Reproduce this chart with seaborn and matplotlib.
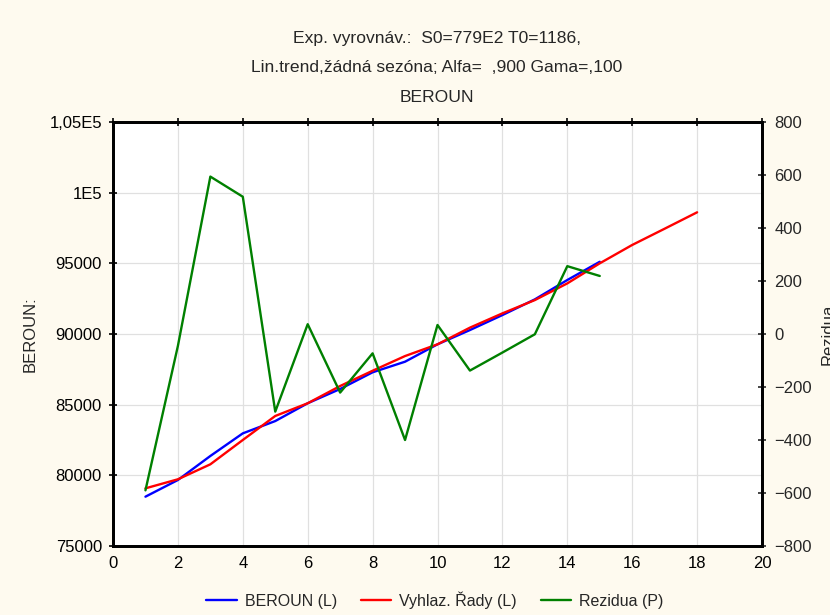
import numpy as np
import pandas as pd
import matplotlib
matplotlib.use('Agg')
import matplotlib.pyplot as plt
import seaborn as sns

# hodnoty
obdobi = list(range(1, 16))
beroun = [78490, 79670, 81370, 82970, 83840, 85100, 86110, 87290, 88040,
          89270, 90280, 91340, 92450, 93820, 95110]
obdobi_vyhl = list(range(1, 19))
vyhlazene = [79080, 79720, 80780, 82500, 84200, 85100, 86320, 87400, 88440,
             89270, 90450, 91460, 92400, 93580, 95000, 96300, 97450, 98610]
rezidua = [-590, -45, 594, 518, -293, 37, -221, -73, -400,
           34, -138, -70, -1, 256, 219]

titulky = ["Exp. vyrovnáv.:  S0=779E2 T0=1186,",
           "Lin.trend,žádná sezóna; Alfa=  ,900 Gama=,100",
           "BEROUN"]
levy_ticks = [75000, 80000, 85000, 90000, 95000, 100000, 105000]
levy_labels = ["75000", "80000", "85000", "90000", "95000", "1E5", "1,05E5"]
pravy_ticks = list(range(-800, 801, 200))
x_ticks = list(range(0, 21, 2))

df1 = pd.DataFrame({'x': obdobi, 'y': beroun})
df2 = pd.DataFrame({'x': obdobi_vyhl, 'y': vyhlazene})
df3 = pd.DataFrame({'x': obdobi, 'y': rezidua})

sns.set_style('white')
plt.rcParams['font.family'] = ['Liberation Sans', 'DejaVu Sans']
bg = '#fefaef'

fig = plt.figure(figsize=(8.3, 6.15), dpi=100, facecolor=bg)
ax = fig.add_axes([113/830, 1-546/615, (762-113)/830, (546-122)/615])
ax.set_facecolor('white')

sns.lineplot(data=df1, x='x', y='y', color='blue', lw=1.7, ax=ax, label='BEROUN (L)', legend=False)
sns.lineplot(data=df2, x='x', y='y', color='red', lw=1.7, ax=ax, label='Vyhlaz. Řady (L)', legend=False)
ax2 = ax.twinx()
sns.lineplot(data=df3, x='x', y='y', color='green', lw=1.7, ax=ax2, label='Rezidua (P)', legend=False)

ax.set_xlim(0, 20)
ax.set_ylim(75000, 105000)
ax2.set_ylim(-800, 800)
ax.set_xticks(x_ticks)
ax.set_yticks(levy_ticks)
ax.set_yticklabels(levy_labels)
ax2.set_yticks(pravy_ticks)
ax.set_xlabel('')
ax.set_ylabel('')
ax2.set_ylabel('')

ax.grid(True, color='#e0e0e0', lw=0.9)
ax.set_axisbelow(True)
ax.tick_params(axis='both', which='both', direction='inout', length=6, width=1.2,
               labelsize=12, top=True, colors='black', pad=5)
ax.tick_params(axis='x', labeltop=False, pad=4)
ax2.tick_params(axis='y', direction='inout', length=6, width=1.2, labelsize=12, pad=6)
for a in (ax, ax2):
    for s in a.spines.values():
        s.set_color('black')
        s.set_linewidth(2)

for i, t in enumerate(titulky):
    fig.text(437/830, 1 - (38 + i*29.5)/615, t, ha='center', va='center', fontsize=12.6)

fig.text(30/830, 1-334/615, 'BEROUN:', rotation=90, ha='center', va='center', fontsize=12)
fig.text(828/830, 1-334/615, 'Rezidua', rotation=90, ha='center', va='center', fontsize=12)

h1, l1 = ax.get_legend_handles_labels()
h2, l2 = ax2.get_legend_handles_labels()
fig.legend(h1 + h2, l1 + l2, loc='center', bbox_to_anchor=(435/830, 1-600/615), ncol=3,
           frameon=False, fontsize=11.5, handlelength=1.9, columnspacing=1.5, handletextpad=0.5)

fig.savefig('out.png', dpi=100, facecolor=bg)
